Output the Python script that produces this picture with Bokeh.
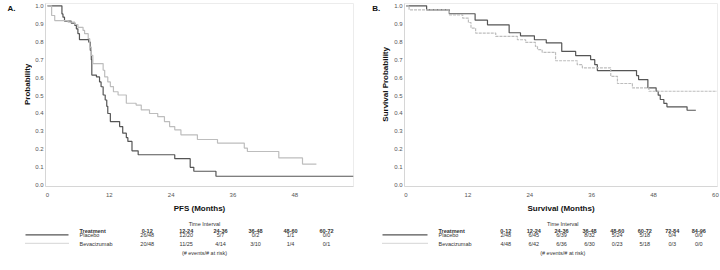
import math
from bokeh.plotting import figure
from bokeh.layouts import column, row
from bokeh.models import Range1d, FixedTicker, ColumnDataSource, NumeralTickFormatter
from bokeh.embed import file_html
from bokeh.resources import INLINE
from bokeh.core.properties import value

FONT = "Liberation Sans"

# Progression-free survival, Kaplan-Meier step points (months, probability)
pfs_placebo_t = [0, 2.8, 3.0, 3.3, 4.6, 5.3, 5.6, 5.9, 6.2, 8.0, 8.3, 8.5, 8.6, 9.5, 10.1,
                 10.4, 10.8, 11.2, 11.5, 11.7, 12.2, 14.0, 14.6, 15.3, 15.6, 16.4, 17.6,
                 24.7, 27.7, 28.4, 32.7, 59.4]
pfs_placebo_s = [1.0, 0.955, 0.937, 0.915, 0.904, 0.891, 0.872, 0.845, 0.812, 0.798, 0.752,
                 0.70, 0.614, 0.604, 0.576, 0.549, 0.503, 0.475, 0.44, 0.40, 0.355, 0.327,
                 0.29, 0.265, 0.244, 0.192, 0.170, 0.148, 0.10, 0.078, 0.05, 0.05]
pfs_bev_t = [0, 0.8, 1.4, 4.0, 5.3, 5.9, 6.9, 7.2, 7.9, 8.2, 8.5, 8.8, 10.8, 11.1, 11.7,
             12.2, 12.8, 13.7, 15.3, 17.2, 18.2, 19.8, 21.4, 22.7, 23.7, 24.7, 25.9, 29.1,
             33.0, 38.2, 38.8, 44.9, 49.5, 52.2]
pfs_bev_s = [1.0, 0.946, 0.918, 0.909, 0.896, 0.88, 0.863, 0.845, 0.817, 0.77, 0.724, 0.678,
             0.641, 0.604, 0.576, 0.55, 0.521, 0.503, 0.457, 0.447, 0.42, 0.40, 0.382, 0.355,
             0.327, 0.309, 0.281, 0.255, 0.235, 0.207, 0.188, 0.152, 0.118, 0.118]

# Overall survival, Kaplan-Meier step points (months, probability)
os_placebo_t = [0, 4.0, 8.4, 13.4, 15.8, 20.0, 22.2, 24.9, 27.2, 30.2, 32.9, 35.8, 36.6, 37.1,
                44.7, 45.1, 46.9, 48.5, 48.9, 49.3, 50.0, 50.6, 54.5, 56.2]
os_placebo_s = [1.0, 0.978, 0.956, 0.92, 0.894, 0.85, 0.833, 0.811, 0.793, 0.746, 0.722, 0.70,
                0.672, 0.639, 0.611, 0.589, 0.543, 0.524, 0.502, 0.478, 0.456, 0.437, 0.418,
                0.418]
os_bev_t = [0, 0.6, 8.4, 11.0, 12.1, 12.6, 13.5, 17.4, 21.6, 23.2, 25.1, 25.5, 26.4, 29.0,
            33.2, 34.2, 39.7, 41.0, 43.9, 47.1, 60.3]
os_bev_s = [1.0, 0.978, 0.95, 0.931, 0.907, 0.876, 0.848, 0.83, 0.811, 0.796, 0.774, 0.756,
            0.741, 0.694, 0.672, 0.654, 0.607, 0.567, 0.543, 0.524, 0.524]

# Events / patients at risk per interval
pfs_intervals = ["0-12", "12-24", "24-36", "36-48", "48-60", "60-72"]
pfs_placebo_counts = ["26/48", "12/20", "5/7", "0/2", "1/1", "0/0"]
pfs_bev_counts = ["20/48", "11/25", "4/14", "3/10", "1/4", "0/1"]
os_intervals = ["0-12", "12-24", "24-36", "36-48", "48-60", "60-72", "72-84", "84-96"]
os_placebo_counts = ["2/48", "6/45", "6/39", "8/32", "5/24", "5/18", "0/4", "0/0"]
os_bev_counts = ["4/48", "6/42", "6/36", "6/30", "0/23", "5/18", "0/3", "0/0"]

treatments = ["Placebo", "Bevacizumab"]
pfs_ticks = [0, 12, 24, 36, 48]
os_ticks = [0, 12, 24, 36, 48, 60]
prob_ticks = [0.0, 0.1, 0.2, 0.3, 0.4, 0.5, 0.6, 0.7, 0.8, 0.9, 1.0]

PLACEBO_COLOR = "#555555"
BEV_COLOR = "#bdbdbd"


def blank(width, height):
    """A plain figure in pixel-like coordinates (y pointing down) for free text."""
    p = figure(width=width, height=height, output_backend="svg", toolbar_location=None,
               x_range=Range1d(0, width), y_range=Range1d(height, 0), min_border=0)
    p.axis.visible = False
    p.xgrid.visible = False
    p.ygrid.visible = False
    p.outline_line_color = None
    return p


def side_strip(width, letter, letter_x, ytitle, title_x):
    """Panel letter and the rotated y-axis title, left of each plot frame."""
    p = blank(width, 215)
    p.text(x=[letter_x], y=[6.3], text=[letter], text_font=value(FONT), text_font_size="8px",
           text_font_style="bold", text_baseline="middle", text_color="#111111")
    p.text(x=[title_x], y=[95], text=[ytitle], angle=math.pi / 2, text_font=value(FONT),
           text_font_size="8px", text_font_style="bold", text_align="center",
           text_baseline="middle", text_color="#111111")
    return p


def km_panel(width, x_start, x_end, ticks, xlabel, border_left, border_right):
    p = figure(width=width, height=215, output_backend="svg", toolbar_location=None,
               x_range=Range1d(x_start, x_end), y_range=Range1d(-0.007, 1.013),
               min_border_left=border_left, min_border_right=border_right,
               min_border_top=3, min_border_bottom=28)
    p.xgrid.visible = False
    p.ygrid.visible = False
    p.outline_line_color = "#ececec"
    for ax in (p.xaxis[0], p.yaxis[0]):
        ax.axis_line_color = "#d6d6d6"
        ax.major_tick_line_color = None
        ax.minor_tick_line_color = None
        ax.major_tick_out = 0
        ax.major_tick_in = 0
        ax.minor_tick_out = 0
        ax.minor_tick_in = 0
        ax.major_label_text_font = FONT
        ax.major_label_text_font_size = "6px"
        ax.major_label_text_color = "#555555"
        ax.axis_label_text_font = FONT
        ax.axis_label_text_font_size = "8px"
        ax.axis_label_text_font_style = "bold"
        ax.axis_label_text_color = "#111111"
    p.xaxis.ticker = FixedTicker(ticks=ticks)
    p.yaxis.ticker = FixedTicker(ticks=prob_ticks)
    p.yaxis.formatter = NumeralTickFormatter(format="0.0")
    p.xaxis.major_label_standoff = 6
    p.yaxis.major_label_standoff = 2
    p.xaxis.axis_label = xlabel
    p.xaxis.axis_label_standoff = 4
    return p


stripA = side_strip(32, "A.", 7, "Probability", 27)
pA = km_panel(328, -0.39, 59.4, pfs_ticks, "PFS (Months)", 12, 7)
pA.step(pfs_placebo_t, pfs_placebo_s, mode="after", line_color=PLACEBO_COLOR, line_width=1.2)
pA.step(pfs_bev_t, pfs_bev_s, mode="after", line_color=BEV_COLOR, line_width=1.2)

stripB = side_strip(31, "B.", 11.7, "Survival Probability", 25)
pB = km_panel(329, -0.29, 60.4, os_ticks, "Survival (Months)", 12, 3)
pB.step(os_placebo_t, os_placebo_s, mode="after", line_color=PLACEBO_COLOR, line_width=1.2)
pB.step(os_bev_t, os_bev_s, mode="after", line_color=BEV_COLOR, line_width=1.2, line_dash="3 1")

# Event tables below both panels
pt = blank(720, 55)


def table(p, x_line0, x_line1, x_treat, col_x, center_x, intervals, placebo, bev):
    y_head, y_pl, y_bev = 15.3, 19.7, 28.7
    p.segment(x0=[x_line0], y0=[19.3], x1=[x_line1], y1=[19.3], line_color=PLACEBO_COLOR, line_width=1.2)
    p.segment(x0=[x_line0], y0=[27.8], x1=[x_line1], y1=[27.8], line_color="#aaaaaa",
              line_width=1.0, line_dash="1 1")
    common = dict(text_font=value(FONT), text_font_size="5.5px", text_baseline="middle",
                  text_color="#333333")
    p.text(x=[center_x], y=[8.3], text=["Time Interval"], text_align="center", **common)
    p.text(x=[center_x], y=[37.6], text=["(# events/# at risk)"], text_align="center", **common)
    p.text(x=[x_treat], y=[y_head], text=["Treatment"], text_align="left",
           text_font_style="bold", **common)
    p.text(x=[x_treat, x_treat], y=[y_pl, y_bev], text=treatments, text_align="left", **common)
    src = ColumnDataSource(dict(x=col_x, yh=[y_head] * len(col_x), yp=[y_pl] * len(col_x),
                                yb=[y_bev] * len(col_x), h=intervals, pl=placebo, bv=bev))
    p.text(x="x", y="yh", text="h", source=src, text_align="center", text_font_style="bold", **common)
    p.text(x="x", y="yp", text="pl", source=src, text_align="center", **common)
    p.text(x="x", y="yb", text="bv", source=src, text_align="center", **common)


table(pt, 25, 68, 79, [146.7, 185.7, 220, 255, 290, 326], 204,
      pfs_intervals, pfs_placebo_counts, pfs_bev_counts)
table(pt, 382, 427, 438, [505.3, 533.3, 561, 589, 616.7, 644.3, 671.7, 698.3], 562.3,
      os_intervals, os_placebo_counts, os_bev_counts)

layout = column(row(stripA, pA, stripB, pB, spacing=0), pt, spacing=0)

with open("out.html", "w") as f:
    f.write(file_html(layout, INLINE))
